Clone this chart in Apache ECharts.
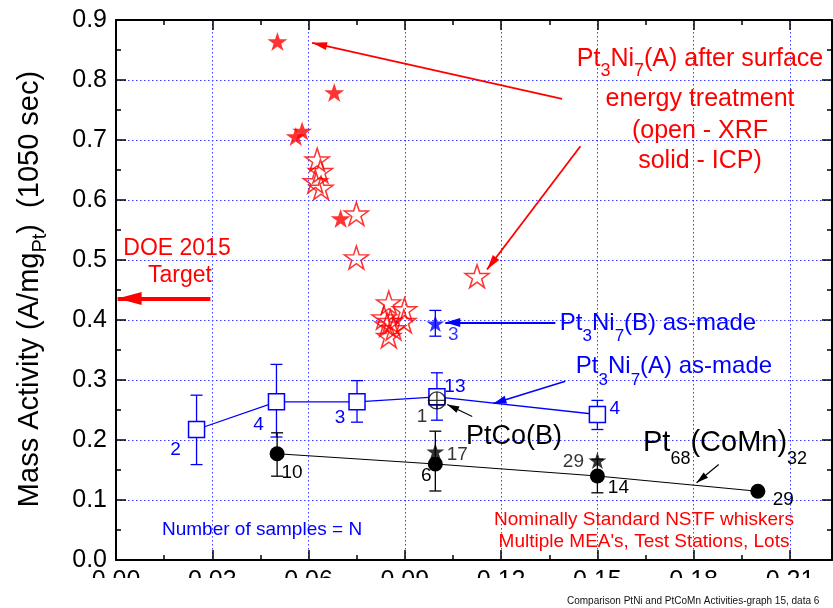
<!DOCTYPE html>
<html><head><meta charset="utf-8">
<script src="https://cdn.jsdelivr.net/npm/echarts@6/dist/echarts.min.js"></script>
<style>html,body{margin:0;padding:0;background:#fff}#c{width:833px;height:608px}</style>
</head><body><div id="c"></div>
<script>
// ---------- data ----------
const xTickLabels = ['0.00','0.03','0.06','0.09','0.12','0.15','0.18','0.21'];
const yTickLabels = ['0.0','0.1','0.2','0.3','0.4','0.5','0.6','0.7','0.8','0.9'];

// Pt3Ni7(A) after surface energy treatment, solid = ICP
const icpX = [0.0503, 0.0680, 0.0560, 0.0580, 0.0700];
const icpY = [0.864, 0.779, 0.706, 0.715, 0.569];
// Pt3Ni7(A) after surface energy treatment, open = XRF
const xrfX = [0.0627, 0.0637, 0.0621, 0.0639, 0.0749, 0.0749, 0.1125, 0.0850, 0.0899, 0.0835, 0.0855, 0.0897, 0.0850, 0.0845, 0.0865];
const xrfY = [0.667, 0.648, 0.631, 0.620, 0.577, 0.504, 0.473, 0.429, 0.4175, 0.404, 0.398, 0.398, 0.373, 0.392, 0.386];

// Pt3Ni7(B) as-made
const bX = [0.0995], bY = [0.394], bLo = [0.373], bHi = [0.416], bN = [3];
// Pt3Ni7(A) as-made
const aX  = [0.0251, 0.0500, 0.0751, 0.1000, 0.1500];
const aY  = [0.2175, 0.2637, 0.2637, 0.2720, 0.2425];
const aLo = [0.159, 0.205, 0.2297, 0.233, 0.2175];
const aHi = [0.2747, 0.326, 0.299, 0.312, 0.266];
const aN  = [2, 4, 3, 13, 4];
// PtCo(B)
const pcX = [0.1000], pcY = [0.266], pcN = [1];
// Pt68(CoMn)32 circles
const cX  = [0.0502, 0.0995, 0.1500, 0.2000];
const cY  = [0.177, 0.160, 0.140, 0.1145];
const cLo = [0.1397, 0.115, 0.112, null];
const cHi = [0.212, 0.2147, 0.168, null];
const cN  = [10, 6, 14, 29];
// Pt68(CoMn)32 stars
const sX = [0.0995, 0.1500], sY = [0.181, 0.166], sN = [17, 29];

// DOE 2015 target level
const doeTarget = 0.4358;

// ---------- layout / style ----------
const FONT = "'Liberation Sans', Arial, Helvetica, sans-serif";
const XMAX = 0.2231;
const RED = '#ff0000', BLUE = '#0000ff', BLK = '#000000';
const STAR = 'path://M50,0L61.2,34.5L97.6,34.5L68.2,55.9L79.4,90.5L50,69.1L20.6,90.5L31.8,55.9L2.4,34.5L38.8,34.5Z';
const CIRCX = 'path://M0,50A50,50,0,1,1,100,50A50,50,0,1,1,0,50Z M0,50L100,50 M50,0L50,100 M10,78L90,78';
const HEAD = 'path://M5,0L10,20L0,20Z';

const chart = echarts.init(document.getElementById('c'), null, {renderer:'canvas', width:833, height:608});

const gridLine = {show:true, lineStyle:{color:'#3b3bff', width:1, type:[1.5,2.5]}};
function xAx(pos, interval, len, main){
  return {
    type:'value', position:pos, min:0, max:XMAX, interval:interval,
    axisLine:{show:main, onZero:false, lineStyle:{color:BLK, width:2}},
    axisTick:{show:true, inside:true, length:len, lineStyle:{color:BLK, width:1.5}},
    axisLabel:{show: main && pos==='bottom', showMaxLabel:false, margin:9, color:BLK, fontSize:25, fontFamily:FONT,
      formatter:(v)=>{ const i = Math.round(v/0.03); return Math.abs(v - i*0.03) < 1e-6 ? xTickLabels[i] : ''; }},
    splitLine: (main && pos==='bottom') ? gridLine : {show:false}
  };
}
function yAx(pos, main){
  return {
    type:'value', position:pos, min:0, max:0.9, interval:0.1,
    axisLine:{show:true, onZero:false, lineStyle:{color:BLK, width:2}},
    axisTick:{show:true, inside:true, length:10, lineStyle:{color:BLK, width:1.5}},
    minorTick:{show:true, splitNumber:2, length:5, lineStyle:{color:BLK, width:1.5}},
    axisLabel:{show:main, margin:9, color:BLK, fontSize:25, fontFamily:FONT,
      formatter:(v)=> yTickLabels[Math.round(v*10)]},
    splitLine: main ? gridLine : {show:false}
  };
}

function errSeries(xs, lo, hi, color, name){
  return {
    type:'custom', name:name, z:3, silent:true,
    encode:{x:0, y:[1,2]},
    data: xs.map((x,i)=>[x, lo[i], hi[i]]).filter(d=>d[1]!=null),
    renderItem:(params, api)=>{
      const x = api.value(0);
      const p1 = api.coord([x, api.value(1)]), p2 = api.coord([x, api.value(2)]);
      const cw = 6, st = {stroke:color, lineWidth:1.3};
      return {type:'group', children:[
        {type:'line', shape:{x1:p1[0], y1:p1[1], x2:p2[0], y2:p2[1]}, style:st},
        {type:'line', shape:{x1:p1[0]-cw, y1:p1[1], x2:p1[0]+cw, y2:p1[1]}, style:st},
        {type:'line', shape:{x1:p2[0]-cw, y1:p2[1], x2:p2[0]+cw, y2:p2[1]}, style:st}
      ]};
    }
  };
}

function items(xs, ys, ns, offs, color){
  return xs.map((x,i)=>({
    value:[x, ys[i]],
    label: ns ? {show:true, position:'inside', formatter:String(ns[i]), offset:offs[i],
      color:color, fontSize:19, fontFamily:FONT} : {show:false}
  }));
}

// label offsets (pixels)
const aOff = [[-21,20],[-18,23],[-17,16],[18,-10],[17.5,-6]];
const bOff = [[18,11.5]];
const pcOff = [[-15,16]];
const cOff = [[15,19],[-9,12],[21,12],[25.5,8]];
const sOff = [[22,3],[-24,1.5]];

// annotation arrows (data coordinates): from, to
const arrows = [
  {from:[0.1390, 0.7687], to:[0.0611, 0.862], color:RED, w:1.8, head:[8,15]},
  {from:[0.1447, 0.6897], to:[0.1156, 0.4842], color:RED, w:1.8, head:[8,15]},
  {from:[0.0294, doeTarget], to:[0.0005, doeTarget], color:RED, w:4, head:[13,24]},
  {from:[0.1369, 0.396], to:[0.1026, 0.396], color:BLUE, w:2.2, head:[9,15]},
  {from:[0.1400, 0.298], to:[0.1176, 0.2608], color:BLUE, w:1.5, head:[8,13]},
  {from:[0.1110, 0.2392], to:[0.1032, 0.2592], color:BLK, w:1.2, head:[7,12]},
  {from:[0.1878, 0.1592], to:[0.1809, 0.1287], color:BLK, w:1.2, head:[7,12]}
];

function txt(x, y, text, color, size, align, rich, extra){
  return Object.assign({
    type:'text', x:x, y:y, z:50, silent:true,
    style:{text:text, fill:color, fontSize:size, fontFamily:FONT, align:align||'center', verticalAlign:'middle', rich:rich||{}}
  }, extra||{});
}
function subStyle(size, pad){ return {fontSize:size, fontFamily:FONT, padding:[pad,0,0,0], verticalAlign:'middle'}; }

const option = {
  backgroundColor:'#ffffff',
  animation:false,
  grid:{left:116, right:1, top:20, bottom:48, containLabel:false},
  xAxis:[ xAx('bottom',0.03,10,true), xAx('bottom',0.015,5,false), xAx('top',0.03,10,true), xAx('top',0.015,5,false) ],
  yAxis:[ yAx('left',true), yAx('right',false) ],
  series:[
    errSeries(aX, aLo, aHi, BLUE, 'errA'),
    errSeries(bX, bLo, bHi, BLUE, 'errB'),
    errSeries(cX, cLo, cHi, BLK, 'errC'),
    {
      type:'line', name:'Pt3Ni7(A) as-made', z:4,
      data: items(aX, aY, aN, aOff, BLUE),
      symbol:'rect', symbolSize:16,
      lineStyle:{color:BLUE, width:1.3},
      itemStyle:{color:'#ffffff', borderColor:BLUE, borderWidth:1.5}
    },
    {
      type:'line', name:'Pt68(CoMn)32', z:4,
      data: items(cX, cY, cN, cOff, BLK),
      symbol:'circle', symbolSize:15,
      lineStyle:{color:BLK, width:1.1},
      itemStyle:{color:BLK, borderWidth:0}
    },
    {
      type:'scatter', name:'Pt68(CoMn)32 stars', z:5,
      data: items(sX, sY, sN, sOff, BLK),
      symbol:STAR, symbolSize:[18,17],
      itemStyle:{color:BLK}
    },
    {
      type:'scatter', name:'PtCo(B)', z:5,
      data: items(pcX, pcY, pcN, pcOff, BLK),
      symbol:CIRCX, symbolSize:17,
      itemStyle:{color:'rgba(255,255,255,0)', borderColor:BLK, borderWidth:1.4}
    },
    {
      type:'scatter', name:'Pt3Ni7(B) as-made', z:5,
      data: items(bX, bY, bN, bOff, BLUE),
      symbol:STAR, symbolSize:[18,17],
      itemStyle:{color:BLUE}
    },
    {
      type:'scatter', name:'ICP', z:5,
      data: items(icpX, icpY, null, null, RED),
      symbol:STAR, symbolSize:[20,19],
      itemStyle:{color:RED}
    },
    {
      type:'scatter', name:'XRF', z:5,
      data: items(xrfX, xrfY, null, null, RED),
      symbol:STAR, symbolSize:[24,23],
      itemStyle:{color:'rgba(255,255,255,0)', borderColor:RED, borderWidth:1.5}
    },
    {
      type:'scatter', name:'arrows', z:6, data:[], silent:true,
      markLine:{
        silent:true, animation:false, label:{show:false}, emphasis:{disabled:true},
        data: arrows.map(a=>[
          {coord:a.from, symbol:'none', lineStyle:{color:a.color, width:a.w, type:'solid'}},
          {coord:a.to, symbol:HEAD, symbolSize:a.head, symbolOffset:[0, a.head[1]/2]}
        ])
      }
    }
  ],
  graphic:[
    {type:'rect', z:100, silent:true, shape:{x:0, y:578, width:833, height:30}, style:{fill:'#ffffff'}},
    // y-axis title
    txt(30, 289, 'Mass Activity (A/mg{s|Pt})  (1050 sec)', BLK, 29, 'center', {s:subStyle(20,20)}, {rotation:Math.PI/2}),
    // red annotation
    txt(700, 59, 'Pt{s|3}Ni{s|7}(A) after surface', RED, 25, 'center', {s:subStyle(18,25)}),
    txt(700, 99, 'energy treatment', RED, 25),
    txt(700, 131, '(open - XRF', RED, 25),
    txt(700, 161, 'solid - ICP)', RED, 25),
    // DOE
    txt(177, 248.5, 'DOE 2015', RED, 23),
    txt(180, 276, 'Target', RED, 23),
    // blue labels
    txt(658, 323, 'Pt{s|3}Ni{s|7}(B) as-made', BLUE, 24, 'center', {s:subStyle(17,27)}),
    txt(674, 366.5, 'Pt{s|3}Ni{s|7}(A) as-made', BLUE, 24, 'center', {s:subStyle(17,27)}),
    // black labels
    txt(514, 436.5, 'PtCo(B)', BLK, 27),
    txt(643, 443, 'Pt{s|68}(CoMn){s|32}', BLK, 29, 'left', {s:subStyle(18,32)}),
    // notes
    txt(162, 530, 'Number of samples = N', BLUE, 19, 'left'),
    txt(644, 520, 'Nominally Standard NSTF whiskers', RED, 19),
    txt(644, 541.5, "Multiple MEA's, Test Stations, Lots", RED, 19),
    Object.assign(txt(567, 601, 'Comparison PtNi and PtCoMn Activities-graph 15, data 6', '#111', 10, 'left'), {z:110})
  ]
};
chart.setOption(option);
</script>
</body></html>
